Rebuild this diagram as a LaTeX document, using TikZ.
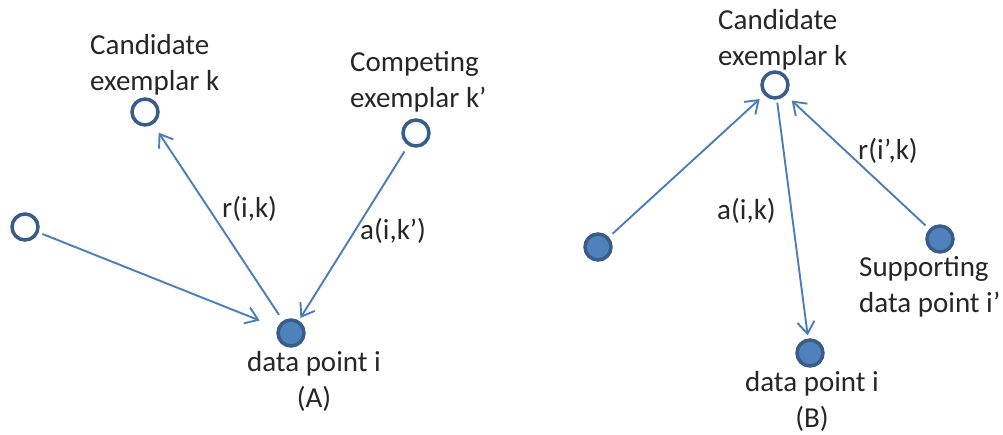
\documentclass[tikz,border=0pt]{standalone}
\usepackage{fontspec}
\setmainfont{Carlito}
\usetikzlibrary{arrows.meta}
\definecolor{ringc}{HTML}{385D8A}
\definecolor{fillc}{HTML}{4F81BD}
\definecolor{arrc}{HTML}{4A7EBB}
\definecolor{txtc}{HTML}{262626}
\begin{document}
\begin{tikzpicture}[x=1pt,y=-1pt,
  pt/.style={circle,draw=ringc,line width=3.5pt,minimum size=26pt,inner sep=0pt},
  hollowpt/.style={pt,fill=white},
  filledpt/.style={pt,fill=fillc},
  conn/.style={draw=arrc,line width=1.9pt,-{Straight Barb[length=12pt,width=17pt]}},
  lbl/.style={font=\fontsize{29}{35.5}\selectfont,text=txtc,inner sep=0pt,anchor=base west},
  lblc/.style={font=\fontsize{29}{35.5}\selectfont,text=txtc,inner sep=0pt,anchor=base,align=center}]
\useasboundingbox (0,0) rectangle (1003,434);
% left panel (A)
\node[hollowpt] (ck) at (145,112) {};
\node[hollowpt] (cp) at (416,133) {};
\node[hollowpt] (lo) at (25,227) {};
\node[filledpt] (di) at (291,333) {};
\draw[conn, shorten <=7pt, shorten >=10pt] (di) -- (ck);
\draw[conn, shorten <=7pt, shorten >=3pt] (cp) -- (di);
\draw[conn, shorten <=4pt, shorten >=19pt] (lo) -- (di);
\node[lbl, align=left] (tck) at (90,90) {Candidate\\exemplar k};
\node[lbl, align=left] (tcp) at (350,107) {Competing\\exemplar k’};
\node[lbl] (trik) at (222,217) {r(i,k)};
\node[lbl] (taik) at (360,239) {a(i,k’)};
\node[lblc] (tdi) at (314,407) {data point i\\(A)};
% right panel (B)
\node[hollowpt] (ck2) at (775,85) {};
\node[filledpt] (lf) at (598,247) {};
\node[filledpt] (sp) at (940,239) {};
\node[filledpt] (di2) at (810,353) {};
\draw[conn, shorten <=5pt, shorten >=6pt] (lf) -- (ck2);
\draw[conn, shorten <=3pt, shorten >=3pt] (ck2) -- (di2);
\draw[conn, shorten <=5pt, shorten >=8pt] (sp) -- (ck2);
\node[lbl, align=left] (tck2) at (718,65) {Candidate\\exemplar k};
\node[lbl, align=left] (tsp) at (859,312) {Supporting\\data point i’};
\node[lblc] (tdi2) at (812,427) {data point i\\(B)};
\node[lbl] (taik2) at (717,219) {a(i,k)};
\node[lbl] (trik2) at (858,159) {r(i’,k)};
\end{tikzpicture}
\end{document}
